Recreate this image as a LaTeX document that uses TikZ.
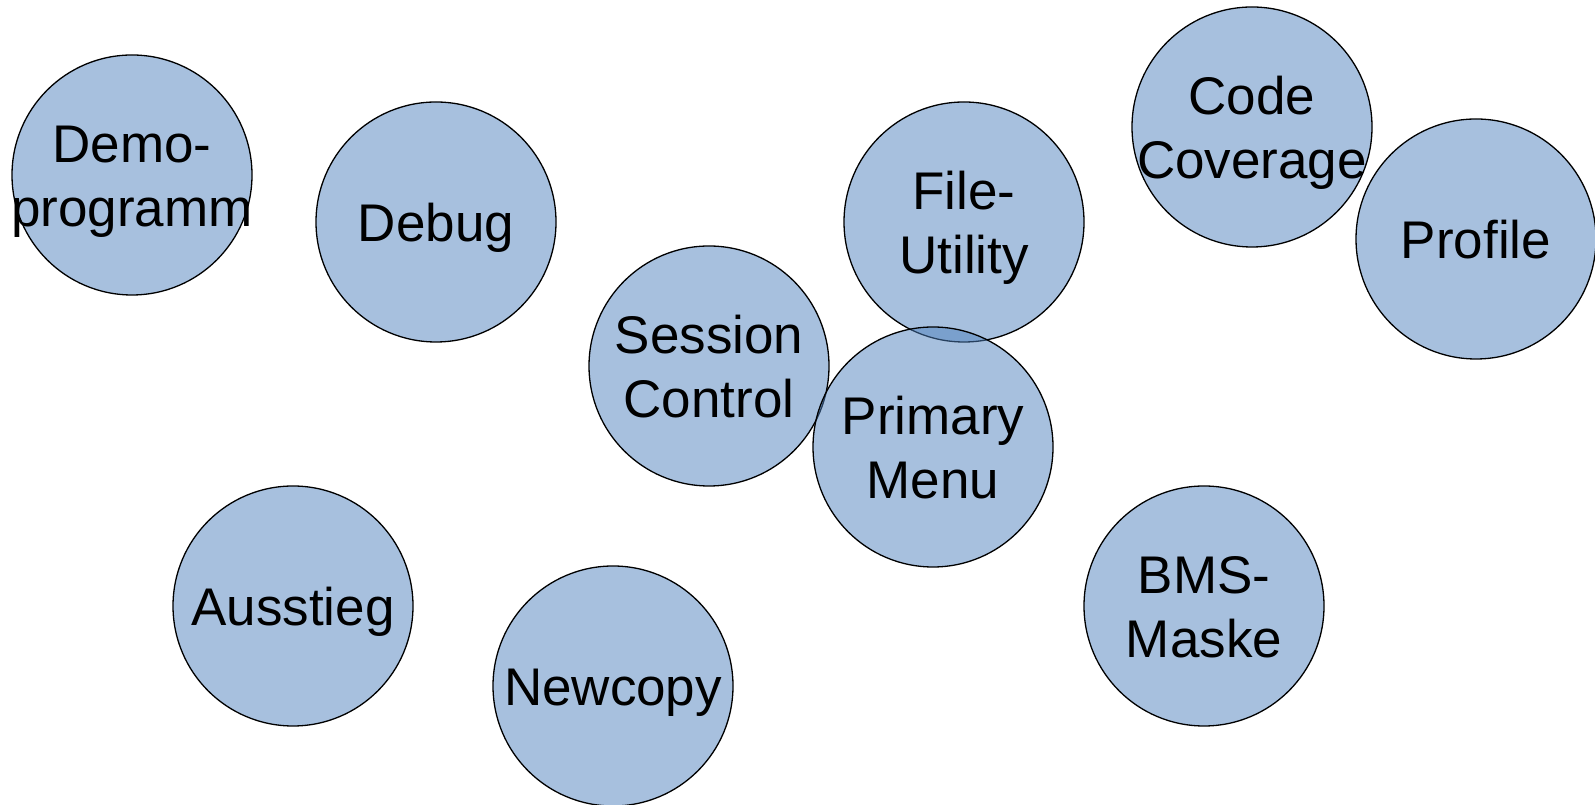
\documentclass[tikz,border=0pt]{standalone}
\usepackage{fontspec}
\setmainfont{Liberation Sans}
\definecolor{bubblefill}{HTML}{4F81BD}
\begin{document}
\begin{tikzpicture}[x=1pt,y=1pt,
  bubble/.style={circle,draw=black,line width=1.3pt,fill=bubblefill,fill opacity=0.5,draw opacity=1,minimum size=240pt,inner sep=0pt},
  btext/.style={align=center,font=\fontsize{53}{64}\selectfont,inner sep=0pt,text=black,yshift=-6.7pt}]
\useasboundingbox (0,0) rectangle (1595,805);
\node[bubble] (demo) at (132,630) {};
\node[bubble] (debug) at (436,583) {};
\node[bubble] (session) at (709,439) {};
\node[bubble] (file) at (964,583) {};
\node[bubble] (code) at (1252,678) {};
\node[bubble] (profile) at (1476,566) {};
\node[bubble] (primary) at (933,358) {};
\node[bubble] (bms) at (1204,199) {};
\node[bubble] (ausstieg) at (293,199) {};
\node[bubble] (newcopy) at (613,119) {};
\node[btext] (tdemo) at (demo) {\strut Demo-\\\strut programm};
\node[btext] (tdebug) at (debug) {\strut Debug};
\node[btext] (tsession) at (session) {\strut Session\\\strut Control};
\node[btext] (tfile) at (file) {\strut File-\\\strut Utility};
\node[btext] (tcode) at (code) {\strut Code\\\strut Coverage};
\node[btext] (tprofile) at (profile) {\strut Profile};
\node[btext] (tprimary) at (primary) {\strut Primary\\\strut Menu};
\node[btext] (tbms) at (bms) {\strut BMS-\\\strut Maske};
\node[btext] (tausstieg) at (ausstieg) {\strut Ausstieg};
\node[btext] (tnewcopy) at (newcopy) {\strut Newcopy};
\end{tikzpicture}
\end{document}
